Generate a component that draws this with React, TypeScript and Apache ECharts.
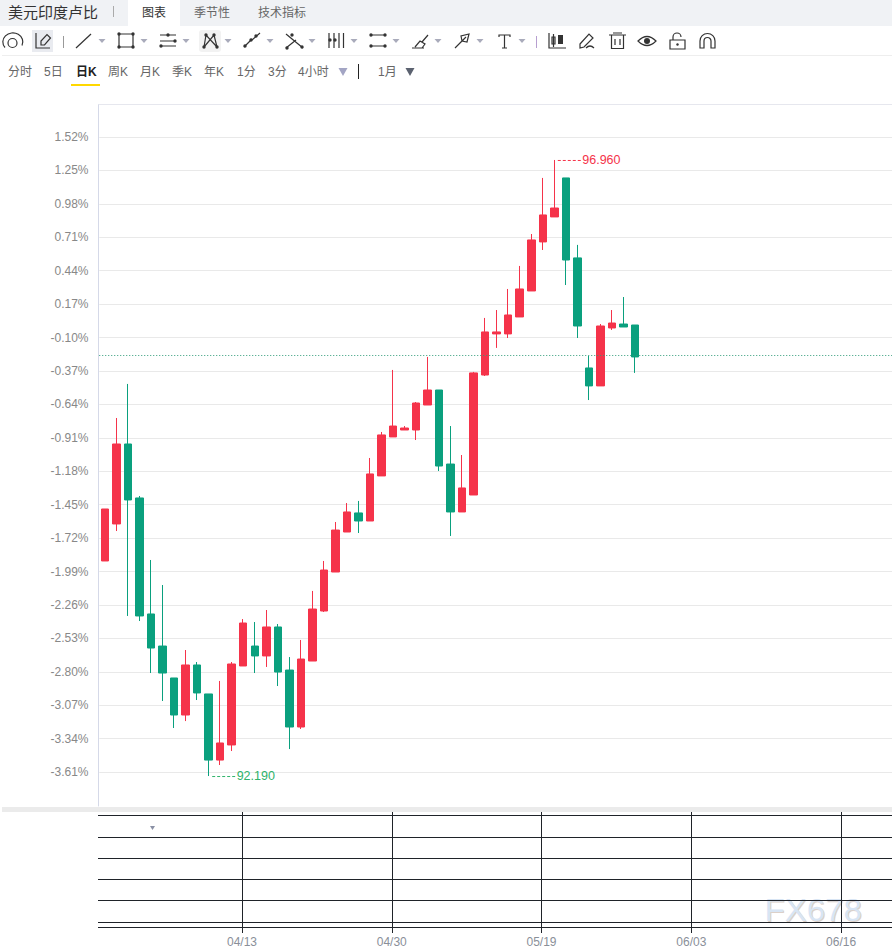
import React, { useEffect, useRef } from "react";
import * as echarts from "echarts";

const FONT = "'Liberation Sans', 'Noto Sans CJK SC', sans-serif";
const UP = "#f5334a";
const DOWN = "#0aa07e";

const yTicks = [1.52, 1.25, 0.98, 0.71, 0.44, 0.17, -0.1, -0.37, -0.64, -0.91, -1.18, -1.45, -1.72, -1.99, -2.26, -2.53, -2.8, -3.07, -3.34, -3.61];
const tickIndices = [12, 25, 38, 51, 64];
const tickLabels = ["04/13", "04/30", "05/19", "06/03", "06/16"];
const barCount = 69;
const lowerRows = [3, 25.3, 46.3, 67.3, 88.3, 110.3, 115.3];

// open, close, low, high (percent change)
const opens = [-1.905, -1.606, -0.96, -1.396, -2.333, -2.592, -2.85, -3.149, -2.745, -2.979, -3.513, -3.391, -2.753, -2.592, -2.672, -2.438, -2.786, -3.246, -2.713, -2.309, -1.994, -1.671, -1.517, -1.582, -1.218, -0.903, -0.847, -0.847, -0.645, -0.524, -1.122, -1.509, -1.372, -0.403, -0.071, -0.071, 0.066, 0.276, 0.672, 0.874, 1.189, 0.543, -0.346, -0.491, -0.023, 0.009, 0.001];
const closes = [-1.485, -0.96, -1.412, -2.349, -2.608, -2.81, -3.149, -2.745, -2.971, -3.513, -3.375, -2.737, -2.406, -2.672, -2.438, -2.802, -3.246, -2.697, -2.293, -1.978, -1.655, -1.509, -1.582, -1.202, -0.887, -0.815, -0.831, -0.629, -0.524, -1.138, -1.509, -1.315, -0.386, -0.055, -0.055, 0.082, 0.292, 0.688, 0.89, 0.946, 0.526, -0.007, -0.491, -0.007, 0.017, -0.015, -0.257];
const lows = [-1.905, -1.663, -2.349, -2.39, -2.81, -3.036, -3.254, -3.198, -3.028, -3.642, -3.553, -3.44, -2.753, -2.81, -2.761, -2.915, -3.424, -3.262, -2.713, -2.317, -1.994, -1.671, -1.679, -1.582, -1.218, -0.903, -0.847, -0.928, -0.645, -1.178, -1.703, -1.509, -1.372, -0.411, -0.184, -0.104, 0.066, 0.276, 0.607, 0.874, 0.324, -0.104, -0.605, -0.491, -0.039, -0.015, -0.386];
const highs = [-1.485, -0.75, -0.475, -1.38, -1.897, -2.099, -2.85, -2.624, -2.721, -2.979, -2.874, -2.721, -2.374, -2.398, -2.301, -2.414, -2.681, -2.543, -2.147, -1.905, -1.59, -1.437, -1.42, -1.073, -0.863, -0.362, -0.815, -0.621, -0.257, -0.524, -0.815, -1.049, -0.378, 0.058, 0.122, 0.292, 0.478, 0.736, 1.189, 1.334, 1.189, 0.648, -0.249, 0.009, 0.122, 0.227, 0.001];

const extremeIndices = [39, 9];
const extremeValues = [1.334, -3.642];
const extremeTexts = ["96.960", "92.190"];
const extremeColors = ["#f5334a", "#2fb36b"];
const referenceLevel = -0.245;

const title = "美元印度卢比";
const tabs = ["图表", "季节性", "技术指标"];
const periods = ["分时", "5日", "日K", "周K", "月K", "季K", "年K", "1分", "3分", "4小时"];

function dot(cx: number, cy: number, r = 1.7) {
  return `M${cx - r} ${cy}a${r} ${r} 0 1 0 ${2 * r} 0a${r} ${r} 0 1 0 ${-2 * r} 0Z `;
}

const strokeIcons = [
  "M5 47.5A10 9 0 1 1 22 45.5M8 43a4.5 4.5 0 1 0 9 0a4.5 4.5 0 1 0 -9 0",
  "M36 33V48H50M41 45V41L47 34.5L50.5 38L44.5 45Z",
  "M76 48L91 34",
  "M119 34H133V47H119Z",
  "M160 35H176M160 41H176M160 46H176",
  "M204 47L206 35L217 47L214 35L204 47",
  "M244 47L252 39M252 40L260 33",
  "M286 34L303 48M286 48L296 40",
  "M329 33V48M334 33V48M339 33V48M343.5 33V48",
  "M370 35H386M370 46H386",
  "M412 48H424M415 47L420 41L425 44L422 48M422 42L428 35",
  "M455 48L466 37M462 41L461 36L469 34L467 42L462 41Z",
  "M499 37V35H510V37M504.5 35V48M502 48H507",
  "M549 33V48H566M552 37H555V44H552ZM553.5 34V47",
  "M580 44L589 34L593 38L584 47L580 48ZM586 48Q590 44 594 48",
  "M609 35H626M613 33H622M611.5 35V48.5H623.5V35M615 39V45M620 39V45",
  "M638 41Q647 32 656 41Q647 50 638 41Z",
  "M670 40H685V49H670ZM673 40V37A4 4 0 0 1 681 37",
  "M700 48V41A7.5 7.5 0 0 1 715 41V48H711V41A3.5 3.5 0 0 0 704 41V48Z",
];
const fillIcons = [
  dot(119, 34) + dot(133, 34) + dot(119, 47) + dot(133, 47),
  dot(161, 46) + dot(175, 41) + dot(168, 35),
  dot(206, 35) + dot(214, 35) + dot(204, 47) + dot(217, 47),
  dot(245, 46) + dot(251, 40) + dot(256, 36),
  dot(287, 48) + dot(292, 35) + dot(302, 47),
  dot(330, 40) + dot(335, 40),
  dot(371, 35) + dot(385, 35) + dot(371, 46) + dot(385, 46),
  "M558 35H563V44H558Z",
  dot(647, 41, 3),
  dot(677.5, 44.5, 1.2),
];
const dropArrows = [102, 144, 186, 228, 270, 312, 354, 396, 438, 480, 522];

strokeIcons.forEach((d, i) => echarts.graphic.registerShape(`tb-s${i}`, echarts.graphic.extendPath(d, {})));
fillIcons.forEach((d, i) => echarts.graphic.registerShape(`tb-f${i}`, echarts.graphic.extendPath(d, {})));

function tri(cx: number, cy: number, w: number, h: number, fill: string) {
  return {
    type: "polygon",
    silent: true,
    shape: { points: [[cx - w / 2, cy - h / 2], [cx + w / 2, cy - h / 2], [cx, cy + h / 2]] },
    style: { fill },
  };
}
function rect(x: number, y: number, width: number, height: number, fill: string) {
  return { type: "rect", silent: true, shape: { x, y, width, height }, style: { fill } };
}
function label(text: string, x: number, y: number, fontSize: number, fill: string, extra: any = {}) {
  return {
    type: "text",
    silent: true,
    x,
    y,
    style: { text, fill, fontSize, fontFamily: FONT, verticalAlign: "middle", ...extra },
  };
}

export default function App() {
  const ref = useRef<HTMLDivElement>(null);
  useEffect(() => {
    document.body.style.margin = "0";
    const chart = echarts.init(ref.current!, undefined, { renderer: "svg" });
    const categories = Array.from({ length: barCount }, (_, i) => {
      const k = tickIndices.indexOf(i);
      return k >= 0 ? tickLabels[k] : "";
    });
    const candles = opens.map((o, i) => [o, closes[i], lows[i], highs[i]]);
    const isTick = (i: number) => tickIndices.indexOf(i) >= 0;
    const periodX = [8, 44, 76, 108, 140, 172, 204, 237, 268, 298];
    const tabX = [142, 194, 258];

    const graphic: any[] = [
      rect(0, 0, 892, 26, "#f0f2f5"),
      rect(128, 0, 52, 26, "#ffffff"),
      label(title, 8, 12, 15, "#333333"),
      rect(113, 6, 1, 11, "#aaaaaa"),
      ...tabs.map((t, i) => label(t, tabX[i], 12.5, 12, i === 0 ? "#333333" : "#666666")),
      rect(32, 30, 21, 22, "#e9ebf0"),
      { type: "rect", silent: true, shape: { x: 199, y: 30, width: 22, height: 22, r: 3 }, style: { fill: "#f2f2f2" } },
      rect(63, 36, 1, 12, "#999999"),
      rect(536, 36, 1, 12, "#b79fd0"),
      ...strokeIcons.map((_, i) => ({
        type: `tb-s${i}`,
        silent: true,
        style: { fill: "none", stroke: "#333333", lineWidth: 1.2 },
      })),
      ...fillIcons.map((_, i) => ({ type: `tb-f${i}`, silent: true, style: { fill: "#333333" } })),
      ...dropArrows.map((x) => tri(x, 41, 7, 4, "#a9abbb")),
      rect(2, 55, 890, 1, "#eeeeee"),
      ...periods.map((t, i) => label(t, periodX[i], 72, 12, i === 2 ? "#222222" : "#666666", i === 2 ? { fontWeight: "bold" } : {})),
      tri(343, 72, 9, 8, "#a3a5c4"),
      rect(358, 64, 1, 15, "#222222"),
      label("1月", 378, 72, 12, "#666666"),
      tri(410, 72, 9, 8, "#5b6270"),
      rect(71, 84, 29, 2, "#ffd800"),
      rect(98, 104, 794, 1, "#e6e7ee"),
      rect(2, 807, 890, 5, "#ebebeb"),
      tri(152.5, 828, 5, 4, "#8a90a5"),
      { ...label("FX678", 765.5, 911.5, 31, "#dcd0c8", { fontFamily: "'Liberation Sans', sans-serif" }), scaleX: 1.065, z: -1 },
      { ...label("FX678", 764.5, 910.5, 31, "#d8e5f4", { fontFamily: "'Liberation Sans', sans-serif" }), scaleX: 1.065, z: -1 },
    ];

    chart.setOption({
      animation: false,
      backgroundColor: "#ffffff",
      textStyle: { fontFamily: FONT },
      grid: [
        { left: 99.24, top: 105, width: 794.9, height: 701, containLabel: false, outerBoundsMode: "none" },
        { left: 98, top: 812, width: 794.9, height: 121, containLabel: false, outerBoundsMode: "none" },
      ],
      xAxis: [
        {
          type: "category",
          gridIndex: 0,
          data: categories,
          axisLine: { show: false },
          axisTick: { show: false },
          axisLabel: { show: false },
          splitLine: { show: false },
        },
        {
          type: "category",
          gridIndex: 1,
          data: categories,
          axisLine: { show: false },
          axisTick: { show: false },
          axisLabel: {
            show: true,
            interval: (i: number) => isTick(i),
            color: "#8a8f99",
            fontSize: 12,
            margin: 3,
            fontFamily: FONT,
            hideOverlap: false,
          },
          splitLine: {
            show: true,
            alignWithLabel: true,
            interval: (i: number) => isTick(i),
            lineStyle: { color: "#1f2329", width: 1 },
          },
        },
      ],
      yAxis: [
        {
          type: "value",
          gridIndex: 0,
          min: -3.884,
          max: 1.778,
          offset: 0.74,
          axisLine: { show: true, lineStyle: { color: "#d5d9e8", width: 1 } },
          axisTick: { show: false, customValues: yTicks },
          axisLabel: {
            customValues: yTicks,
            formatter: (v: number) => `${v.toFixed(2)}%`,
            color: "#888888",
            fontSize: 12,
            margin: 10,
            padding: [4, 0, 0, 0],
            fontFamily: FONT,
          },
          splitLine: { show: true, lineStyle: { color: "#e9e9e9", width: 1 } },
        },
        {
          type: "value",
          gridIndex: 1,
          inverse: true,
          min: 0,
          max: 121,
          axisLine: { show: false },
          axisTick: { show: false, customValues: lowerRows },
          axisLabel: { show: false, customValues: lowerRows },
          splitLine: { show: true, lineStyle: { color: "#1f2329", width: 1 } },
        },
      ],
      series: [
        {
          type: "candlestick",
          xAxisIndex: 0,
          yAxisIndex: 0,
          data: candles,
          barWidth: 8,
          itemStyle: { color: UP, color0: DOWN, borderColor: UP, borderColor0: DOWN, borderWidth: 1 },
          markLine: {
            silent: true,
            symbol: "none",
            animation: false,
            label: { show: false },
            lineStyle: { color: "#2e9b78", type: [1, 2], width: 1 },
            data: [{ yAxis: referenceLevel }],
          },
        },
        {
          type: "custom",
          xAxisIndex: 0,
          yAxisIndex: 0,
          silent: true,
          clip: false,
          data: extremeIndices.map((x, i) => [x, extremeValues[i]]),
          renderItem: (params: any, api: any) => {
            const p = api.coord([api.value(0), api.value(1)]);
            const color = extremeColors[params.dataIndex];
            return {
              type: "group",
              children: [
                {
                  type: "line",
                  shape: { x1: p[0] + 3.5, y1: p[1] + 0.5, x2: p[0] + 27.5, y2: p[1] + 0.5 },
                  style: { stroke: color, lineWidth: 1, lineDash: [3, 2] },
                },
                {
                  type: "text",
                  style: {
                    text: extremeTexts[params.dataIndex],
                    x: p[0] + 28,
                    y: p[1],
                    fill: color,
                    fontSize: 12.5,
                    fontFamily: FONT,
                    verticalAlign: "middle",
                  },
                },
              ],
            };
          },
        },
        { type: "line", xAxisIndex: 1, yAxisIndex: 1, data: [], showSymbol: false },
      ],
      graphic: { elements: graphic },
    });
    return () => chart.dispose();
  }, []);
  return <div ref={ref} style={{ position: "fixed", left: 0, top: 0, width: 892, height: 946, overflow: "hidden" }} />;
}
